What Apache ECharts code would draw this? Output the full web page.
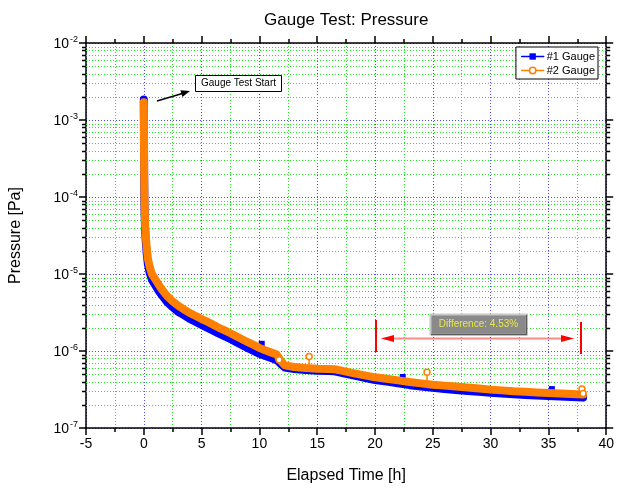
<!DOCTYPE html>
<html>
<head>
<meta charset="utf-8">
<title>Gauge Test: Pressure</title>
<script src="https://cdn.jsdelivr.net/npm/echarts@6/dist/echarts.min.js"></script>
<style>
  html, body { margin: 0; padding: 0; background: #fff; }
  #this_chart { width: 617px; height: 489px; }
</style>
</head>
<body>
<div id="this_chart"></div>
<script>
// elapsed time [h] shared by both gauges
const timeH = [0, 0.01, 0.02, 0.03, 0.05, 0.08, 0.12, 0.18, 0.25, 0.35, 0.5, 0.7,
  1.0, 1.3, 1.6, 2.0, 2.5, 3.0, 3.5, 4.0, 4.5, 5.0, 5.5, 6.0, 6.5, 7.0, 7.5, 8.0,
  8.5, 9.0, 9.5, 10.0, 10.5, 11.0, 11.5, 11.8, 12.2, 13, 14, 15, 16, 16.5, 17,
  17.5, 18, 19, 20, 21, 22, 23, 24, 25, 26, 27, 28, 29, 30, 31, 32, 33, 34, 35,
  36, 37, 38];

// #1 Gauge pressure [Pa]
const gauge1 = [1.85e-3, 9.0e-4, 3.8e-4, 1.8e-4, 9.0e-5, 5.4e-5, 3.5e-5, 2.5e-5,
  1.85e-5, 1.35e-5, 1.05e-5, 8.4e-6, 7.1e-6, 6.0e-6, 5.2e-6, 4.35e-6, 3.7e-6,
  3.2e-6, 2.9e-6, 2.6e-6, 2.38e-6, 2.18e-6, 2.0e-6, 1.84e-6, 1.68e-6, 1.55e-6,
  1.43e-6, 1.3e-6, 1.19e-6, 1.09e-6, 1.0e-6, 9.2e-7, 8.6e-7, 8.1e-7, 7.6e-7,
  6.9e-7, 6.1e-7, 5.85e-7, 5.65e-7, 5.55e-7, 5.5e-7, 5.45e-7, 5.25e-7, 5.05e-7,
  4.85e-7, 4.5e-7, 4.2e-7, 4.0e-7, 3.8e-7, 3.6e-7, 3.45e-7, 3.32e-7, 3.22e-7,
  3.12e-7, 3.03e-7, 2.95e-7, 2.87e-7, 2.8e-7, 2.74e-7, 2.69e-7, 2.64e-7, 2.6e-7,
  2.56e-7, 2.52e-7, 2.48e-7];

// #2 Gauge pressure [Pa]
const gauge2 = [1.7e-3, 1.0e-3, 4.5e-4, 2.2e-4, 1.1e-4, 6.5e-5, 4.2e-5, 3.0e-5,
  2.2e-5, 1.6e-5, 1.25e-5, 1.0e-5, 8.5e-6, 7.2e-6, 6.2e-6, 5.2e-6, 4.4e-6,
  3.85e-6, 3.45e-6, 3.1e-6, 2.85e-6, 2.6e-6, 2.4e-6, 2.2e-6, 2.0e-6, 1.85e-6,
  1.7e-6, 1.55e-6, 1.42e-6, 1.3e-6, 1.2e-6, 1.1e-6, 1.02e-6, 9.6e-7, 9.0e-7,
  7.6e-7, 6.5e-7, 6.2e-7, 6.0e-7, 5.9e-7, 5.85e-7, 5.8e-7, 5.6e-7, 5.4e-7,
  5.2e-7, 4.85e-7, 4.55e-7, 4.35e-7, 4.15e-7, 3.95e-7, 3.8e-7, 3.65e-7, 3.55e-7,
  3.45e-7, 3.35e-7, 3.25e-7, 3.15e-7, 3.08e-7, 3.0e-7, 2.95e-7, 2.9e-7, 2.85e-7,
  2.8e-7, 2.76e-7, 2.72e-7];

// single outlier readings (time, reading, curve level under it)
const spike1Time = [10.2, 22.4, 35.3];
const spike1Peak = [1.24e-6, 4.6e-7, 3.2e-7];
const spike1Base = [9.4e-7, 3.8e-7, 2.6e-7];
const spike2Time = [11.7, 14.3, 24.5, 37.9, 38.0];
const spike2Peak = [7.7e-7, 8.5e-7, 5.3e-7, 3.2e-7, 2.8e-7];
const spike2Base = [7.7e-7, 6.0e-7, 3.72e-7, 2.73e-7, 2.8e-7];

const FONT = "Liberation Sans, Arial, sans-serif";
const BLUE = "#0000ff";
const ORANGE = "#ff8000";
const MAJOR_GRID = "#4a4aff";
const MINOR_GRID = "#1ee81e";
const DOTS = [1, 2];

const chart = echarts.init(document.getElementById("this_chart"), null, { renderer: "canvas" });

function bandSeries(name, data, color, symbol, z) {
  return {
    name: name,
    type: "line",
    data: timeH.map((t, i) => [t, data[i]]),
    symbol: symbol,
    symbolSize: 6,
    showSymbol: false,
    z: z,
    itemStyle: { color: color },
    lineStyle: { color: color, width: 8, cap: "round", join: "round" },
    emphasis: { disabled: true },
    silent: true
  };
}

function spikeSeries(times, peaks, bases, color, symbol, itemStyle, z) {
  return times.map((t, i) => ({
    type: "line",
    data: [
      { value: [t, bases[i]], symbol: "none" },
      { value: [t, peaks[i]] }
    ],
    symbol: symbol,
    symbolSize: 6,
    showSymbol: true,
    z: z,
    itemStyle: itemStyle,
    lineStyle: { color: color, width: 1.5 },
    emphasis: { disabled: true },
    silent: true
  }));
}

const axisLineStyle = { color: "#000", width: 1.5 };

const option = {
  animation: false,
  backgroundColor: "#fff",
  textStyle: { fontFamily: FONT },
  title: {
    text: "Gauge Test: Pressure",
    left: 259,
    top: 7,
    textStyle: { fontSize: 17, fontWeight: "normal", color: "#000", fontFamily: FONT }
  },
  grid: { left: 86, right: 10, top: 43, bottom: 61 },
  legend: {
    orient: "vertical",
    right: 19,
    top: 47,
    padding: [4, 3, 3, 5],
    itemGap: 3,
    itemWidth: 22,
    itemHeight: 8,
    backgroundColor: "#fff",
    borderColor: "#000",
    borderWidth: 1,
    borderRadius: 0,
    textStyle: { fontSize: 11, color: "#000", fontFamily: FONT, padding: [0, 0, 0, -2] },
    data: [
      { name: "#1 Gauge", itemStyle: { color: BLUE }, lineStyle: { color: BLUE, width: 1.5 } },
      {
        name: "#2 Gauge",
        itemStyle: { color: "#fff", borderColor: ORANGE, borderWidth: 1.5 },
        lineStyle: { color: ORANGE, width: 1.5 }
      }
    ]
  },
  xAxis: [
    {
      type: "value",
      min: -5,
      max: 40,
      interval: 5,
      name: "Elapsed Time [h]",
      nameLocation: "middle",
      nameGap: 40,
      nameTextStyle: { fontSize: 16, color: "#000", fontFamily: FONT },
      axisLine: { show: true, onZero: false, lineStyle: axisLineStyle },
      axisTick: { show: true, length: 7, lineStyle: axisLineStyle },
      minorTick: { show: true, splitNumber: 2, length: 4, lineStyle: { color: "#000", width: 1.5 } },
      axisLabel: { fontSize: 14, margin: 9, color: "#000", fontFamily: FONT },
      splitLine: { show: true, lineStyle: { color: MAJOR_GRID, type: DOTS, width: 1 } },
      minorSplitLine: { show: true, lineStyle: { color: MINOR_GRID, type: DOTS, width: 1 } }
    },
    {
      type: "value",
      position: "top",
      min: -5,
      max: 40,
      interval: 5,
      axisLine: { show: true, onZero: false, lineStyle: axisLineStyle },
      axisTick: { show: true, length: 7, lineStyle: axisLineStyle },
      minorTick: { show: true, splitNumber: 2, length: 4, lineStyle: { color: "#000", width: 1.5 } },
      axisLabel: { show: false },
      splitLine: { show: false }
    }
  ],
  yAxis: [
    {
      type: "log",
      logBase: 10,
      min: 1e-7,
      max: 1e-2,
      name: "Pressure [Pa]",
      nameLocation: "middle",
      nameGap: 62,
      nameTextStyle: { fontSize: 16, color: "#000", fontFamily: FONT },
      axisLine: { show: true, onZero: false, lineStyle: axisLineStyle },
      axisTick: { show: true, length: 7, lineStyle: axisLineStyle },
      axisLabel: {
        margin: 8,
        formatter: (v) => "{b|10}{s|" + Math.round(Math.log10(v)) + "}",
        rich: {
          b: { fontSize: 14, lineHeight: 16, verticalAlign: "bottom", color: "#000", fontFamily: FONT },
          s: { fontSize: 9, lineHeight: 9, verticalAlign: "top", color: "#000", fontFamily: FONT, padding: [0, 0, 0, 1] }
        }
      },
      splitLine: { show: true, lineStyle: { color: MAJOR_GRID, type: DOTS, width: 1 } }
    },
    {
      type: "log",
      logBase: 10,
      min: 1e-7,
      max: 1e-2,
      position: "right",
      axisLine: { show: true, onZero: false, lineStyle: axisLineStyle },
      axisTick: { show: true, length: 7, lineStyle: axisLineStyle },
      axisLabel: { show: false },
      splitLine: { show: false }
    }
  ],
  series: [
    bandSeries("#1 Gauge", gauge1, BLUE, "rect", 2),
    ...spikeSeries(spike1Time, spike1Peak, spike1Base, BLUE, "rect", { color: BLUE }, 3),
    bandSeries("#2 Gauge", gauge2, ORANGE, "circle", 4),
    ...spikeSeries(spike2Time, spike2Peak, spike2Base, ORANGE, "circle",
      { color: "#fff", borderColor: ORANGE, borderWidth: 1.5 }, 5)
  ]
};

chart.setOption(option);

// minor log grid lines and ticks (2..9 of each decade), plus annotations
function decorate() {
  const x0 = chart.convertToPixel({ xAxisIndex: 0 }, -5);
  const x1 = chart.convertToPixel({ xAxisIndex: 0 }, 40);
  const items = [];
  for (let e = -7; e < -2; e++) {
    for (let m = 2; m <= 9; m++) {
      const y = Math.round(chart.convertToPixel({ yAxisIndex: 0 }, m * Math.pow(10, e))) + 0.5;
      items.push({
        type: "line", z: 1, silent: true,
        shape: { x1: x0, y1: y, x2: x1, y2: y },
        style: { stroke: MINOR_GRID, lineWidth: 1, lineDash: DOTS }
      });
      items.push({
        type: "line", z: 6, silent: true,
        shape: { x1: x0 - 4, y1: y, x2: x0, y2: y },
        style: { stroke: "#000", lineWidth: 1.5 }
      });
      items.push({
        type: "line", z: 6, silent: true,
        shape: { x1: x1, y1: y, x2: x1 + 4, y2: y },
        style: { stroke: "#000", lineWidth: 1.5 }
      });
    }
  }

  // "Gauge Test Start" callout
  items.push({
    type: "line", z: 10, silent: true,
    shape: { x1: 157, y1: 101, x2: 184, y2: 93 },
    style: { stroke: "#000", lineWidth: 1.5 }
  });
  items.push({
    type: "polygon", z: 10, silent: true,
    shape: { points: [[190, 91], [182.4, 97], [180.4, 90.3]] },
    style: { fill: "#000" }
  });
  items.push({
    type: "rect", z: 10, silent: true,
    shape: { x: 195.5, y: 75.5, width: 86, height: 16 },
    style: { fill: "#fff", stroke: "#000", lineWidth: 1 }
  });
  items.push({
    type: "text", z: 11, silent: true,
    style: {
      x: 238.5, y: 83.5, text: "Gauge Test Start", fill: "#000",
      font: "10px " + FONT, align: "center", verticalAlign: "middle"
    }
  });

  // difference marker
  items.push({
    type: "line", z: 10, silent: true,
    shape: { x1: 376, y1: 320, x2: 376, y2: 352 },
    style: { stroke: "#ff0000", lineWidth: 2 }
  });
  items.push({
    type: "line", z: 10, silent: true,
    shape: { x1: 581, y1: 322, x2: 581, y2: 354 },
    style: { stroke: "#ff0000", lineWidth: 2 }
  });
  items.push({
    type: "line", z: 10, silent: true,
    shape: { x1: 390, y1: 338.5, x2: 565, y2: 338.5 },
    style: { stroke: "rgba(255,60,60,0.6)", lineWidth: 2 }
  });
  items.push({
    type: "polygon", z: 10, silent: true,
    shape: { points: [[381, 338.5], [394, 335], [394, 342]] },
    style: { fill: "#ff0000" }
  });
  items.push({
    type: "polygon", z: 10, silent: true,
    shape: { points: [[574, 338.5], [561, 335], [561, 342]] },
    style: { fill: "#ff0000" }
  });
  items.push({
    type: "rect", z: 10, silent: true,
    shape: { x: 430.5, y: 314.5, width: 96, height: 20 },
    style: { fill: "#8a8a8a", stroke: "#c8c8c8", lineWidth: 2 }
  });
  items.push({
    type: "polyline", z: 10, silent: true,
    shape: { points: [[431, 334.5], [526.5, 334.5], [526.5, 315]] },
    style: { stroke: "#5a5a5a", lineWidth: 1.5, fill: null }
  });
  items.push({
    type: "text", z: 11, silent: true,
    style: {
      x: 478.5, y: 324.5, text: "Difference: 4.53%", fill: "#e8e84a",
      font: "10px " + FONT, align: "center", verticalAlign: "middle"
    }
  });

  chart.setOption({ graphic: items });
}

decorate();
window.addEventListener("resize", () => {
  chart.resize();
  decorate();
});
</script>
</body>
</html>
